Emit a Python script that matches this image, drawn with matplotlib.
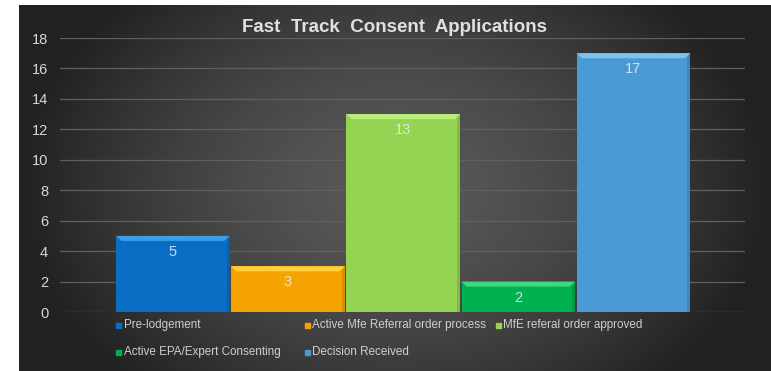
import numpy as np
import matplotlib
matplotlib.use("Agg")
import matplotlib.pyplot as plt
from matplotlib.patches import Polygon, Rectangle

# ── Donnees ────────────────────────────────────────────────────────────────
series = [
    "Pre-lodgement",
    "Active Mfe Referral order process",
    "MfE referal order approved",
    "Active EPA/Expert Consenting",
    "Decision Received",
]
counts = [5, 3, 13, 2, 17]
y_ticks = [0, 2, 4, 6, 8, 10, 12, 14, 16, 18]

body_colors  = ["#0a6fc4", "#f5a300", "#94d452", "#00b24f", "#4a9bd4"]
bevel_colors = ["#3f9de6", "#ffcf3d", "#b8ee7e", "#3fd882", "#7cc3f0"]

W, H, DPI = 771, 371, 100
plt.rcParams["font.family"] = ["Liberation Sans", "DejaVu Sans"]

fig = plt.figure(figsize=(W / DPI, H / DPI), dpi=DPI, facecolor="white")

# ── Fond degrade sombre ────────────────────────────────────────────────────
bg = fig.add_axes([19 / W, 0, 1 - 19 / W, 1 - 5 / H])
bg.set_axis_off()
gx, gy = np.meshgrid(np.linspace(-1, 1, 400), np.linspace(-1, 1, 200))
r = np.clip(np.sqrt((gx / 1.0) ** 2 + (gy / 1.5) ** 2), 0, 1)
shade = 0.35 - 0.22 * r ** 1.5
bg.imshow(np.dstack([shade, shade, shade]), aspect="auto",
          extent=[0, 1, 0, 1], interpolation="bilinear")
bg.set_xlim(0, 1)
bg.set_ylim(0, 1)

# ── Zone de trace ──────────────────────────────────────────────────────────
x0, x1, ytop, ybot = 60, 745, 38, 312
ax = fig.add_axes([x0 / W, (H - ybot) / H, (x1 - x0) / W, (ybot - ytop) / H])
ax.patch.set_alpha(0)
for s in ax.spines.values():
    s.set_visible(False)

pos = np.arange(len(counts))
ax.set_xlim(-0.98, 4.97)
ax.set_ylim(0, 18)
ax.set_yticks(y_ticks)
ax.set_xticks([])
ax.tick_params(axis="y", length=0, pad=8.5, labelsize=10.5, labelcolor="#d8d8d8")
ax.grid(True, axis="y", color="#606060", linewidth=0.9)
ax.set_axisbelow(True)

width = 0.985
ax.bar(pos, counts, width=width, color=body_colors, zorder=2)

# biseau en haut de chaque barre
dx, dy = 0.045, 0.33
for p, v, c in zip(pos, counts, bevel_colors):
    l, rgt = p - width / 2, p + width / 2
    ax.add_patch(Polygon([(l, v), (rgt, v), (rgt - dx, v - dy), (l + dx, v - dy)],
                         closed=True, color=c, zorder=3, linewidth=0))
    ax.add_patch(Polygon([(rgt, v), (rgt, 0), (rgt - dx * 0.5, 0), (rgt - dx * 0.5, v - dy)],
                         closed=True, color="black", alpha=0.12, zorder=3, linewidth=0))

for p, v in zip(pos, counts):
    ax.text(p, v - 1.05, str(v), ha="center", va="center", fontsize=10.5,
            color="#e6eef5", alpha=0.85, zorder=4)

fig.text(395 / W, 1 - 28 / H, "Fast  Track  Consent  Applications",
         ha="center", va="center", fontsize=13.5, fontweight="bold", color="#e0e0e0")

# ── Legende ────────────────────────────────────────────────────────────────
slots = [(119, 325), (307, 325), (498, 325), (119, 352), (307, 352)]
for (px, py), name, c in zip(slots, series, body_colors):
    fig.patches.append(Rectangle(((px - 2.5) / W, 1 - (py + 2.5) / H), 5 / W, 5 / H,
                                 transform=fig.transFigure, color=c, figure=fig))
    fig.text((px + 5) / W, 1 - py / H, name, ha="left", va="center",
             fontsize=8.4, color="#cfcfcf")

fig.savefig("out.png", dpi=DPI, facecolor=fig.get_facecolor())
